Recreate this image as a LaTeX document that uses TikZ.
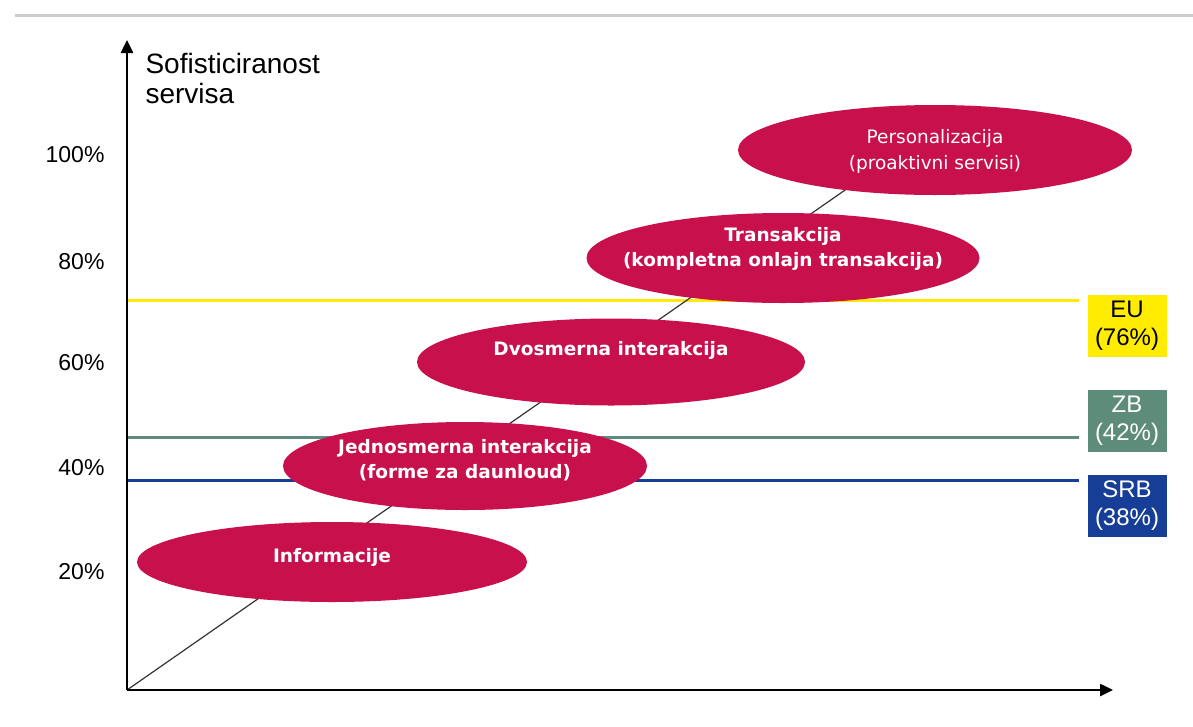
\documentclass[tikz,border=0pt]{standalone}
\usepackage{fontspec}
\setmainfont{Liberation Sans}
\newfontfamily\phasefont{DejaVu Sans}
\usetikzlibrary{shapes.geometric, arrows.meta, positioning}
\definecolor{phasered}{RGB}{200,16,76}
\definecolor{euyellow}{RGB}{255,236,0}
\definecolor{zbgreen}{RGB}{94,140,122}
\definecolor{srbblue}{RGB}{22,62,150}
\tikzset{>={Triangle[length=13pt, width=12pt]}}

\begin{document}
\begin{tikzpicture}[x=1pt, y=-1pt,
    phase/.style={ellipse, fill=phasered, inner sep=0pt},
    phasetext/.style={text=white, align=center, font=\phasefont\bfseries\fontsize{18.5}{25}\selectfont},
    axis/.style={->, line width=2.5pt},
    level/.style={line width=3pt, shorten >=8pt},
    levelbox/.style={minimum width=79pt, minimum height=62pt, inner sep=0pt, align=center, font=\fontsize{24}{28}\selectfont},
    tick/.style={anchor=east, font=\fontsize{23}{24}\selectfont}]
    \useasboundingbox (0,0) rectangle (1193,726);
    \draw[black!20, line width=3pt] (15,15) -- (1193,15);

    % axes
    \coordinate (o) at (127,690);
    \coordinate (ytop) at (127,40);
    \coordinate (xend) at (1113,690);
    \coordinate (trend) at (848,188);

    % boxes on the right
    \node[levelbox, fill=euyellow] (eu) at (1127,326) {EU\\(76\%)};
    \node[levelbox, fill=zbgreen, text=white] (zb) at (1127,421) {ZB\\(42\%)};
    \node[levelbox, fill=srbblue, text=white] (srb) at (1127,506) {SRB\\(38\%)};

    \coordinate (eulvl) at (127,300);
    \coordinate (zblvl) at (127,437);
    \coordinate (srblvl) at (127,480);
    \draw[level, euyellow] (eulvl) -- (eulvl -| eu.west);
    \draw[level, zbgreen] (zblvl) -- (zblvl -| zb.west);
    \draw[level, srbblue] (srblvl) -- (srblvl -| srb.west);

    \draw[black!80, line width=1.2pt] (o) -- (trend);

    % phases
    \node[phase, minimum width=390pt, minimum height=80pt] (info) at (332,562) {};
    \node[phase, minimum width=364pt, minimum height=88pt] (jedno) at (465,466) {};
    \node[phase, minimum width=388pt, minimum height=87pt] (dvo) at (611,362) {};
    \node[phase, minimum width=393pt, minimum height=90pt] (trans) at (783,258) {};
    \node[phase, minimum width=394pt, minimum height=90pt] (pers) at (935,150) {};

    \node[phasetext] (infot) at ([yshift=5pt]info.center) {Informacije};
    \node[phasetext] (jednot) at ([yshift=6pt]jedno.center) {Jednosmerna interakcija\\(forme za daunloud)};
    \node[phasetext] (dvot) at ([yshift=12pt]dvo.center) {Dvosmerna interakcija};
    \node[phasetext] (transt) at ([yshift=9pt]trans.center) {Transakcija\\(kompletna onlajn transakcija)};
    \node[phasetext, font=\phasefont\fontsize{18.5}{26}\selectfont] (perst) at ([yshift=-1pt]pers.center) {Personalizacija\\(proaktivni servisi)};

    \draw[axis] (o) -- (ytop);
    \draw[axis] (o) -- (xend);

    \node[anchor=north west, align=left, font=\fontsize{28}{30}\selectfont] (ytitle) at (142,50) {Sofisticiranost\\servisa};

    \node[tick] (p100) at (108,155) {100\%};
    \node[tick] (p80) at (108,262) {80\%};
    \node[tick] (p60) at (108,363) {60\%};
    \node[tick] (p40) at (108,468) {40\%};
    \node[tick] (p20) at (108,572) {20\%};
\end{tikzpicture}
\end{document}
